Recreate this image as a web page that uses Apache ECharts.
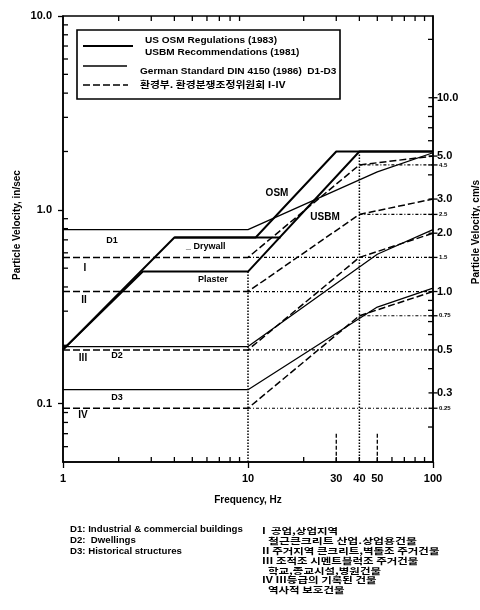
<!DOCTYPE html>
<html>
<head>
<meta charset="utf-8">
<title>Blast vibration criteria</title>
<script src="https://cdn.jsdelivr.net/npm/echarts@6/dist/echarts.min.js"></script>
<style>
  html, body { margin: 0; padding: 0; background: #fff; }
  #chart { width: 480px; height: 610px; }
</style>
</head>
<body>
<div id="chart"></div>
<script>
// ---- axis ticks and labels ----
const freqLabels = [1, 10, 100];
const freqExtraLabels = [30, 40, 50];
const freqMinorTicks = [2, 3, 4, 5, 6, 7, 8, 9, 20, 30, 40, 50, 60, 70, 80, 90];
const velMinorTicks = [0.06, 0.07, 0.08, 0.09, 0.2, 0.3, 0.4, 0.5, 0.6, 0.7, 0.8, 0.9, 2, 3, 4, 5, 6, 7, 8, 9];
const cmsMajorLabels = [10, 5, 3, 2, 1, 0.5, 0.3];
const cmsMinorLabels = [4.5, 2.5, 1.5, 0.75, 0.25];
const cmsMinorTicks = [0.2, 0.4, 0.6, 0.7, 0.8, 0.9, 4, 6, 7, 8, 9, 20];

// ---- US OSM (1983) / USBM (1981), in/sec ----
const osmFreq = [1, 4, 11, 30, 100];
const osmVel = [0.19, 0.72, 0.72, 2.0, 2.0];
const usbmFreq = [1, 2.7, 10, 40, 100];
const usbmVel = [0.19, 0.48, 0.48, 2.0, 2.0];
const drywallFreq = [4, 15];
const drywallVel = [0.72, 0.72];

// ---- German DIN 4150 (1986), in/sec ----
const dinFreq = [1, 10, 50, 100];
const dinD1 = [0.79, 0.79, 1.57, 1.97];
const dinD2 = [0.197, 0.197, 0.59, 0.79];
const dinD3 = [0.118, 0.118, 0.315, 0.394];

// ---- Korean grades I-IV, cm/s ----
const korFreq = [1, 10, 40, 100];
const korI = [1.5, 1.5, 4.5, 5.0];
const korII = [1.0, 1.0, 2.5, 3.0];
const korIII = [0.5, 0.5, 1.5, 2.0];
const korIV = [0.25, 0.25, 0.75, 1.0];

// ---- guide lines ----
const guideFrom10 = [1.5, 1.0, 0.5, 0.25];   // cm/s, from 10 Hz to 100 Hz
const guideFrom40 = [4.5, 2.5, 0.75];         // cm/s, from 40 Hz to 100 Hz
const guideVerticals = [[10, 0.48], [40, 2.0]]; // Hz, top in/sec
const markerVerticals = [30, 50];             // Hz
const markerTop = 0.07;                       // in/sec
const velMin = 0.05, velMax = 10;
const cmsMin = 0.132, cmsMax = 26.4;

const FONT = "'Liberation Sans', Arial, sans-serif";
const KFONT = "'Noto Sans CJK KR', 'Liberation Sans', sans-serif";
const zip = (xs, ys) => xs.map((x, i) => [x, ys[i]]);

function lineSeries(name, data, lineStyle, yAxisIndex, z) {
  return {
    name, type: 'line', data, yAxisIndex: yAxisIndex || 0, symbol: 'none',
    silent: true, animation: false, clip: false, z: z || 3,
    lineStyle: Object.assign({ color: '#000' }, lineStyle)
  };
}
function tickSeries(name, data, size, offset, yAxisIndex) {
  return {
    name, type: 'scatter', data, yAxisIndex: yAxisIndex || 0, symbol: 'rect',
    symbolSize: size, symbolOffset: offset, itemStyle: { color: '#000', opacity: 1 },
    silent: true, animation: false, clip: false, z: 4
  };
}
function labelSeries(name, data, position, distance, fontSize, yAxisIndex, fmt) {
  return {
    name, type: 'scatter', data, yAxisIndex: yAxisIndex || 0, symbolSize: 0,
    itemStyle: { color: '#000', opacity: 1 }, silent: true, animation: false, clip: false, z: 5,
    label: { show: true, position, distance, fontSize, fontWeight: 'bold', fontFamily: FONT, color: '#000', opacity: 1, formatter: fmt }
  };
}
function decadeLabel(v) {
  const e = Math.log10(v), r = Math.round(e);
  if (Math.abs(e - r) > 1e-6) return '';
  return r >= 0 ? Math.pow(10, r).toFixed(1) : Math.pow(10, r).toFixed(-r);
}

const series = [];
// OSM / USBM thick lines
series.push(lineSeries('US OSM', zip(osmFreq, osmVel), { width: 2 }));
series.push(lineSeries('USBM', zip(usbmFreq, usbmVel), { width: 2 }));
series.push(lineSeries('USBM drywall', zip(drywallFreq, drywallVel), { width: 2 }));
// DIN 4150
[dinD1, dinD2, dinD3].forEach((d, i) =>
  series.push(lineSeries('DIN D' + (i + 1), zip(dinFreq, d), { width: 1.3 })));
// Korean grades (right axis, cm/s)
[korI, korII, korIII, korIV].forEach((d, i) =>
  series.push(lineSeries('Grade ' + (i + 1), zip(korFreq, d), { width: 1.5, type: [7, 3] }, 1)));
// horizontal guides to the right axis
guideFrom10.forEach(v => series.push(lineSeries('guide10', [[10, v], [100, v]], { width: 1.2, type: [3, 2, 1, 2] }, 1, 2)));
guideFrom40.forEach(v => series.push(lineSeries('guide40', [[40, v], [100, v]], { width: 1.2, type: [3, 2, 1, 2] }, 1, 2)));
// vertical guides
guideVerticals.forEach(g => series.push(lineSeries('vguide', [[g[0], g[1]], [g[0], velMin]], { width: 1.5, type: [1.5, 1.5] }, 0, 2)));
markerVerticals.forEach(f => series.push(lineSeries('marker', [[f, markerTop], [f, velMin]], { width: 1.3, type: [4, 2] }, 0, 2)));

// ticks: bottom/top frequency, left velocity, right cm/s
series.push(tickSeries('bottomTicks', freqMinorTicks.map(f => [f, velMin]), [1.3, 5], [0, -2.5]));
series.push(tickSeries('topTicks', freqMinorTicks.map(f => [f, velMax]), [1.3, 5], [0, 2.5]));
series.push(tickSeries('leftTicks', velMinorTicks.map(v => [1, v]), [5, 1.3], [2.5, 0]));
series.push(tickSeries('rightMajor', cmsMajorLabels.concat(cmsMinorLabels).map(v => [100, v]), [9, 1.3], [0, 0], 1));
series.push(tickSeries('rightMinor', cmsMinorTicks.map(v => [100, v]), [5, 1.3], [-2.5, 0], 1));

// extra tick labels
series.push(labelSeries('freqExtra', freqExtraLabels.map(f => [f, velMin]), 'bottom', 11, 11, 0, p => String(p.value[0])));
series.push(labelSeries('cmsMajor', cmsMajorLabels.map(v => [100, v]), 'right', 4, 11, 1, p => p.value[1].toFixed(1)));
series.push(labelSeries('cmsMinor', cmsMinorLabels.map(v => [100, v]), 'right', 6, 6, 1, p => String(p.value[1])));

const txt = (x, y, text, opts, sx) => ({
  type: 'text', x, y, z: 20, silent: true, scaleX: sx || 1,
  style: Object.assign({ text, fill: '#000', font: 'bold 9px ' + FONT, textVerticalAlign: 'middle' }, opts || {})
});
const seg = (x1, y1, x2, y2, style) => ({
  type: 'line', z: 20, silent: true, shape: { x1, y1, x2, y2 },
  style: Object.assign({ stroke: '#000', lineWidth: 1.3 }, style || {})
});

const legendFont = { font: 'bold 9.5px ' + FONT };
const noteFont = { font: 'bold 9px ' + FONT };
const kNoteFont = { font: 'bold 8.5px ' + KFONT };
const graphic = [
  // legend box
  { type: 'rect', z: 19, silent: true, shape: { x: 77, y: 30, width: 263, height: 69 },
    style: { fill: '#fff', stroke: '#000', lineWidth: 1.6 } },
  seg(83, 46, 133, 46, { lineWidth: 2 }),
  txt(145, 40, 'US OSM Regulations (1983)', legendFont, 1.06),
  txt(145, 52, 'USBM Recommendations (1981)', legendFont, 1.06),
  seg(83, 66, 127, 66, { lineWidth: 1.3 }),
  txt(140, 71, 'German Standard DIN 4150 (1986)  D1-D3', legendFont, 1.06),
  seg(83, 85, 128, 85, { lineWidth: 1.5, lineDash: [7, 3] }),
  txt(140, 85, '환경부. 환경분쟁조정위원회 I-IV', { font: 'bold 9px ' + KFONT }, 1.2),

  // curve annotations
  txt(112, 241, 'D1', { textAlign: 'center' }),
  txt(186, 247, '_ Drywall'),
  txt(198, 280, 'Plaster'),
  txt(85, 268, 'I', { font: 'bold 10px ' + FONT, textAlign: 'center' }),
  txt(84, 300, 'II', { font: 'bold 10px ' + FONT, textAlign: 'center' }),
  txt(83, 358, 'III', { font: 'bold 10px ' + FONT, textAlign: 'center' }),
  txt(117, 356, 'D2', { textAlign: 'center' }),
  txt(117, 398, 'D3', { textAlign: 'center' }),
  txt(83, 415, 'IV', { font: 'bold 10px ' + FONT, textAlign: 'center' }),
  txt(277, 193, 'OSM', { font: 'bold 10px ' + FONT, textAlign: 'center' }),
  txt(325, 217, 'USBM', { font: 'bold 10px ' + FONT, textAlign: 'center' }),

  // axis titles
  { type: 'text', x: 17, y: 225, rotation: Math.PI / 2, z: 20, silent: true,
    style: { text: 'Particle Velocity, in/sec', fill: '#000', font: 'bold 10px ' + FONT, textAlign: 'center', textVerticalAlign: 'middle' } },
  { type: 'text', x: 476, y: 232, rotation: Math.PI / 2, z: 20, silent: true,
    style: { text: 'Particle Velocity, cm/s', fill: '#000', font: 'bold 10px ' + FONT, textAlign: 'center', textVerticalAlign: 'middle' } },
  txt(248, 500, 'Frequency, Hz', { font: 'bold 10px ' + FONT, textAlign: 'center' }),

  // building categories
  txt(70, 530, 'D1: Industrial & commercial buildings', noteFont, 1.07),
  txt(70, 541, 'D2:  Dwellings', noteFont, 1.07),
  txt(70, 552, 'D3: Historical structures', noteFont, 1.07),
  txt(262, 531, 'I  공업,상업지역', kNoteFont, 1.35),
  txt(268, 541, '철근콘크리트 산업.상업용건물', kNoteFont, 1.4),
  txt(262, 551, 'II 주거지역 콘크리트,벽돌조 주거건물', kNoteFont, 1.35),
  txt(262, 561, 'III 조적조 시멘트블럭조 주거건물', kNoteFont, 1.35),
  txt(268, 571, '학교,종교시설,병원건물', kNoteFont, 1.35),
  txt(262, 580, 'IV III등급의 기록된 건물', kNoteFont, 1.35),
  txt(268, 590, '역사적 보호건물', kNoteFont, 1.35)
];

const axisLine = { show: true, lineStyle: { color: '#000', width: 1.5 } };
const labelStyle = { fontSize: 11, fontWeight: 'bold', fontFamily: FONT, color: '#000' };

const chart = echarts.init(document.getElementById('chart'), null, { renderer: 'canvas' });
chart.setOption({
  animation: false,
  backgroundColor: '#fff',
  grid: { left: 63, right: 47, top: 16, bottom: 148, show: true, borderColor: '#000', borderWidth: 1.5 },
  xAxis: {
    type: 'log', logBase: 10, min: 1, max: 100,
    axisLine,
    axisTick: { show: true, length: 6, lineStyle: { color: '#000', width: 1.3 } },
    axisLabel: Object.assign({ margin: 11, formatter: v => freqLabels.some(f => Math.abs(f - v) < 1e-6) ? String(Math.round(v)) : '' }, labelStyle),
    splitLine: { show: false }
  },
  yAxis: [
    {
      type: 'log', logBase: 10, min: velMin, max: velMax, position: 'left',
      axisLine,
      axisTick: { show: true, length: 5, lineStyle: { color: '#000', width: 1.3 } },
      axisLabel: Object.assign({ margin: 11, formatter: decadeLabel, showMinLabel: false }, labelStyle),
      splitLine: { show: false }
    },
    {
      type: 'log', logBase: 10, min: cmsMin, max: cmsMax, position: 'right',
      axisLine,
      axisTick: { show: false }, axisLabel: { show: false }, splitLine: { show: false }
    }
  ],
  series,
  graphic
});
</script>
</body>
</html>
